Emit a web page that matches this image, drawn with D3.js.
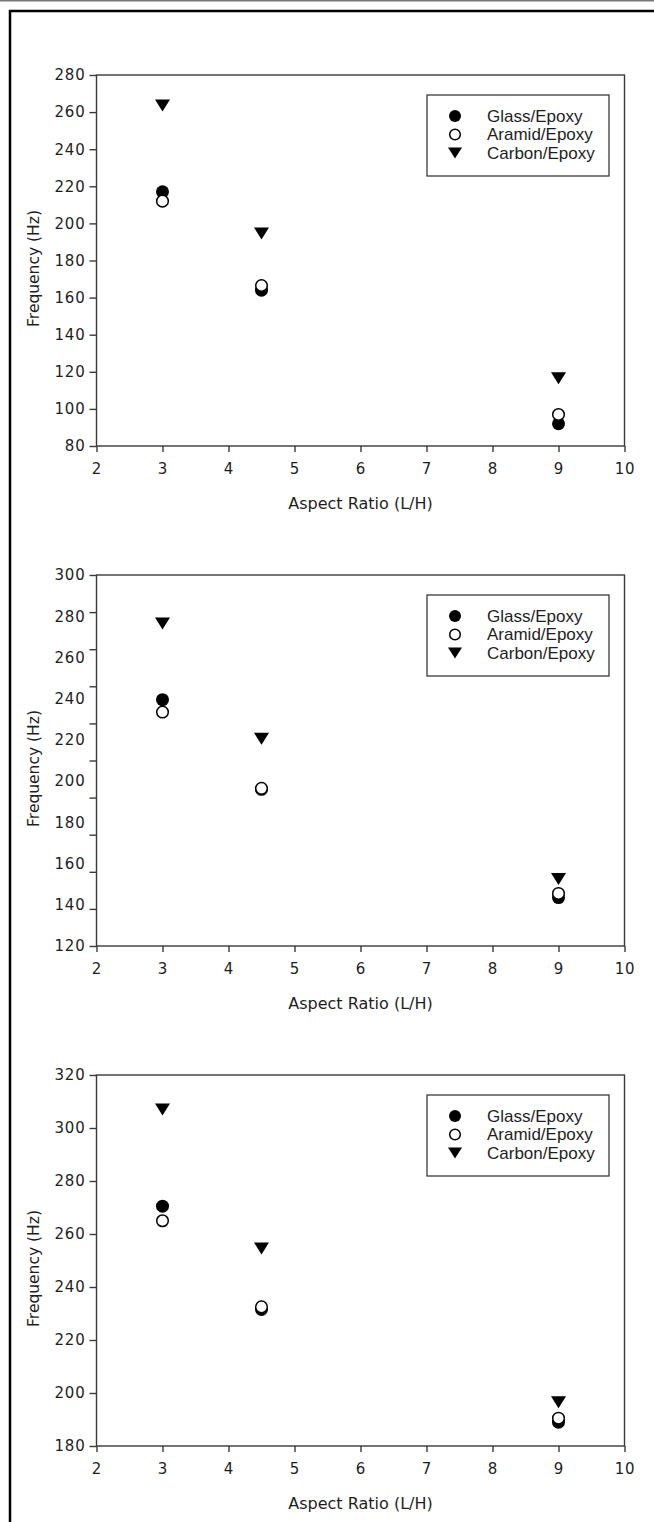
<!DOCTYPE html>
<html>
<head>
<meta charset="utf-8">
<script src="https://cdn.jsdelivr.net/npm/d3@7"></script>
<style>
  html, body { margin: 0; padding: 0; background: #fff; }
  svg { display: block; }
</style>
</head>
<body>
<script>
// Aspect ratios tested
const aspectRatio = [3, 4.5, 9];

// Panel 1 frequencies (Hz)
const glass1 = [217, 164, 92];
const aramid1 = [212, 166.5, 97];
const carbon1 = [263.5, 194.5, 116.5];

// Panel 2 frequencies (Hz)
const glass2 = [239.5, 196, 143.5];
const aramid2 = [233.5, 196.5, 145.5];
const carbon2 = [276.5, 220.5, 152.5];

// Panel 3 frequencies (Hz)
const glass3 = [270.5, 231.5, 189];
const aramid3 = [265, 232.5, 190.5];
const carbon3 = [307, 254.5, 196.5];

// Axis settings
const xTicks = [2, 3, 4, 5, 6, 7, 8, 9, 10];
const yLabels1 = [80, 100, 120, 140, 160, 180, 200, 220, 240, 260, 280];
const yLabels2 = [120, 140, 160, 180, 200, 220, 240, 260, 280, 300];
const yMarks2 = [120, 138, 156, 174, 192, 210, 228, 246, 264, 282, 300];
const yLabels3 = [180, 200, 220, 240, 260, 280, 300, 320];

const seriesNames = ["Glass/Epoxy", "Aramid/Epoxy", "Carbon/Epoxy"];

const panels = [
  { top: 75,   domain: [80, 280],  labels: yLabels1, marks: yLabels1, data: [glass1, aramid1, carbon1] },
  { top: 575,  domain: [120, 300], labels: yLabels2, marks: yMarks2,  data: [glass2, aramid2, carbon2] },
  { top: 1075, domain: [180, 320], labels: yLabels3, marks: yLabels3, data: [glass3, aramid3, carbon3] }
];

const W = 654, H = 1522;
const plotLeft = 96.5, plotRight = 624.5, plotH = 371;
const axisColor = "#3a3a3a";
const textColor = "#1e1e1e";

const svg = d3.select("body").append("svg")
  .attr("width", W).attr("height", H);

// Outer figure framing
svg.append("line").attr("x1", 0).attr("x2", W).attr("y1", 0.75).attr("y2", 0.75)
  .attr("stroke", "#777").attr("stroke-width", 1.5);
svg.append("rect").attr("x", 10).attr("y", 11).attr("width", W + 40).attr("height", H + 40)
  .attr("fill", "none").attr("stroke", "#000").attr("stroke-width", 2.5);

const x = d3.scaleLinear().domain([2, 10]).range([plotLeft, plotRight]);

// Symbol drawers
function drawMarker(g, kind, cx, cy, r) {
  if (kind === 0) {
    g.append("circle").attr("cx", cx).attr("cy", cy).attr("r", r).attr("fill", "#000");
  } else if (kind === 1) {
    g.append("circle").attr("cx", cx).attr("cy", cy).attr("r", r - 0.7)
      .attr("fill", "#fff").attr("stroke", "#000").attr("stroke-width", 1.5);
  } else {
    const hw = r + 1, hh = r - 0.5;
    g.append("path")
      .attr("d", `M${cx - hw},${cy - hh}L${cx + hw},${cy - hh}L${cx},${cy + hh}Z`)
      .attr("fill", "#000");
  }
}

panels.forEach(p => {
  const bottom = p.top + plotH;
  const y = d3.scaleLinear().domain(p.domain).range([bottom, p.top]);
  const g = svg.append("g");

  // Plot frame
  g.append("rect").attr("x", plotLeft).attr("y", p.top)
    .attr("width", plotRight - plotLeft).attr("height", plotH)
    .attr("fill", "none").attr("stroke", axisColor).attr("stroke-width", 1.4);

  // X axis ticks and labels
  const xAxis = g.append("g").attr("transform", `translate(0,${bottom})`)
    .call(d3.axisBottom(x).tickValues(xTicks).tickSize(6).tickPadding(11).tickFormat(d3.format("d")));
  xAxis.select(".domain").remove();
  xAxis.selectAll("line").attr("stroke", axisColor).attr("stroke-width", 1.4);
  xAxis.selectAll("text").attr("fill", textColor)
    .style("font-family", "DejaVu Sans").style("font-size", "15px").style("letter-spacing", "0.8px");

  // Y axis tick marks
  const yMarks = g.append("g").attr("transform", `translate(${plotLeft},0)`)
    .call(d3.axisLeft(y).tickValues(p.marks).tickSize(7).tickFormat(""));
  yMarks.select(".domain").remove();
  yMarks.selectAll("line").attr("stroke", axisColor).attr("stroke-width", 1.4);

  // Y axis labels
  const yLab = g.append("g").attr("transform", `translate(${plotLeft},0)`)
    .call(d3.axisLeft(y).tickValues(p.labels).tickSize(0).tickPadding(11).tickFormat(d3.format("d")));
  yLab.select(".domain").remove();
  yLab.selectAll("line").remove();
  yLab.selectAll("text").attr("fill", textColor)
    .style("font-family", "DejaVu Sans").style("font-size", "15px").style("letter-spacing", "0.8px");

  // Axis titles
  g.append("text")
    .attr("x", (plotLeft + plotRight) / 2).attr("y", bottom + 63)
    .attr("text-anchor", "middle").attr("fill", textColor)
    .style("font-family", "DejaVu Sans").style("font-size", "16px")
    .text("Aspect Ratio (L/H)");
  g.append("text")
    .attr("transform", `translate(39,${p.top + plotH / 2 + 8}) rotate(-90)`)
    .attr("text-anchor", "middle").attr("fill", textColor)
    .style("font-family", "DejaVu Sans").style("font-size", "15.5px")
    .text("Frequency (Hz)");

  // Data markers: glass, then aramid over it, then carbon
  p.data.forEach((vals, k) => {
    vals.forEach((v, i) => drawMarker(g, k, x(aspectRatio[i]), y(v), 6.5));
  });

  // Legend
  const lx = 427, ly = p.top + 20;
  g.append("rect").attr("x", lx).attr("y", ly).attr("width", 182).attr("height", 81)
    .attr("fill", "#fff").attr("stroke", axisColor).attr("stroke-width", 1.3);
  seriesNames.forEach((name, k) => {
    const ry = ly + 21 + k * 18.5;
    drawMarker(g, k, lx + 28, ry, 6);
    g.append("text").attr("x", lx + 60).attr("y", ry).attr("dy", "0.35em")
      .attr("fill", textColor)
      .style("font-family", "Liberation Sans").style("font-size", "17px")
      .text(name);
  });
});
</script>
</body>
</html>
